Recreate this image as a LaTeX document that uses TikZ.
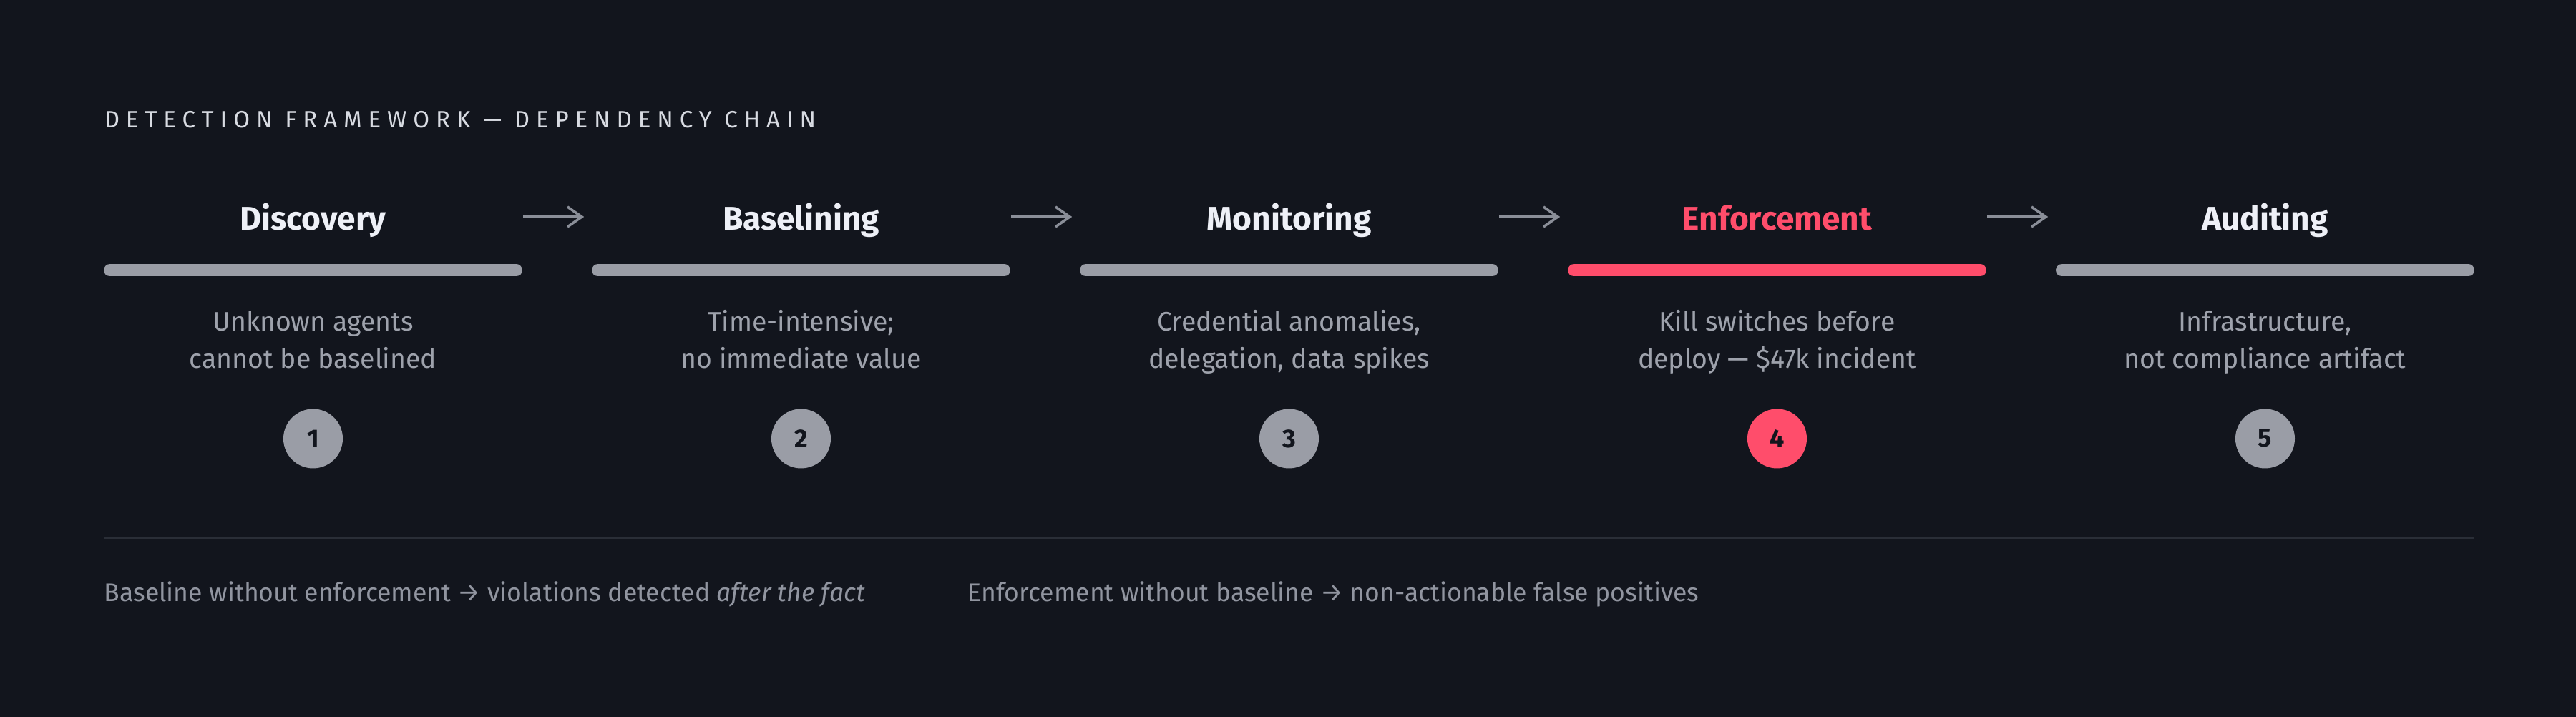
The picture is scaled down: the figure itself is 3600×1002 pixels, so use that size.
\documentclass[tikz,border=0pt]{standalone}
\usepackage{fontspec}
\setmainfont{Fira Sans}
\newfontfamily\titlefont[LetterSpace=27]{Fira Sans}
\usetikzlibrary{arrows.meta}
\definecolor{bg}{HTML}{12151D}
\definecolor{headc}{HTML}{EEF0F7}
\definecolor{redc}{HTML}{FF4D6B}
\definecolor{grayc}{HTML}{9A9DA6}
\definecolor{descc}{HTML}{9EA2AC}
\definecolor{arrc}{HTML}{8A8E98}
\definecolor{sepc}{HTML}{2A2E37}
\definecolor{footc}{HTML}{9195A0}
\definecolor{titlec}{HTML}{D8DBE2}
\tikzset{
  head/.style={inner sep=0pt, minimum width=146.25pt, text height=9.5pt, text depth=0pt,
    font=\fontsize{11.5pt}{13pt}\selectfont\bfseries, text=headc, anchor=base},
  bar/.style={line width=4.25pt, line cap=round, draw=grayc},
  arr/.style={draw=arrc, line width=0.9pt, shorten >=2.5pt, -{Straight Barb[length=5pt,width=7pt,line width=0.9pt]}},
  desc/.style={inner sep=0pt, align=center, text=descc, anchor=base,
    font=\fontsize{9.35pt}{13pt}\selectfont},
  num/.style={circle, fill=grayc, minimum size=20.75pt, inner sep=0pt, text=bg,
    font=\fontsize{9pt}{10pt}\selectfont\bfseries},
  foot/.style={inner sep=0pt, anchor=base west, text=footc, font=\fontsize{8.9pt}{10pt}\selectfont},
  ttl/.style={inner sep=0pt, anchor=base west, text=titlec, font=\fontsize{8.25pt}{10pt}\titlefont},
  sepline/.style={draw=sepc, line width=0.7pt}
}
\begin{document}
\begin{tikzpicture}[x=0.25pt,y=-0.25pt]
\fill[bg] (0,0) rectangle (3600,1002);
\useasboundingbox (0,0) rectangle (3600,1002);

\node[ttl] (title) at (145,179) {DETECTION FRAMEWORK — DEPENDENCY CHAIN};

\node[head] (h1) at (437.5,322) {Discovery};
\node[head] (h2) at (1119.5,322) {Baselining};
\node[head] (h3) at (1801.5,322) {Monitoring};
\node[head, text=redc] (h4) at (2483.5,322) {Enforcement};
\node[head] (h5) at (3165.5,322) {Auditing};

\draw[arr] (h1.east) -- (h2.west);
\draw[arr] (h2.east) -- (h3.west);
\draw[arr] (h3.east) -- (h4.west);
\draw[arr] (h4.east) -- (h5.west);

\draw[bar] (153.5,378) -- (721.5,378);
\draw[bar] (835.5,378) -- (1403.5,378);
\draw[bar] (1517.5,378) -- (2085.5,378);
\draw[bar, draw=redc] (2199.5,378) -- (2767.5,378);
\draw[bar] (2881.5,378) -- (3449.5,378);

\node[desc] (d1) at (437.5,515) {Unknown agents\\cannot be baselined};
\node[desc] (d2) at (1119.5,515) {Time-intensive;\\no immediate value};
\node[desc] (d3) at (1801.5,515) {Credential anomalies,\\delegation, data spikes};
\node[desc] (d4) at (2483.5,515) {Kill switches before\\deploy — \$47k incident};
\node[desc] (d5) at (3165.5,515) {Infrastructure,\\not compliance artifact};

\node[num] (n1) at (437.5,613) {1};
\node[num] (n2) at (1119.5,613) {2};
\node[num] (n3) at (1801.5,613) {3};
\node[num, fill=redc] (n4) at (2483.5,613) {4};
\node[num] (n5) at (3165.5,613) {5};

\draw[sepline] (145,752) -- (3458,752);

\node[foot] (f1) at (145,841) {Baseline without enforcement → violations detected \textit{after the fact}};
\node[foot] (f2) at (1352,841) {Enforcement without baseline → non-actionable false positives};
\end{tikzpicture}
\end{document}
